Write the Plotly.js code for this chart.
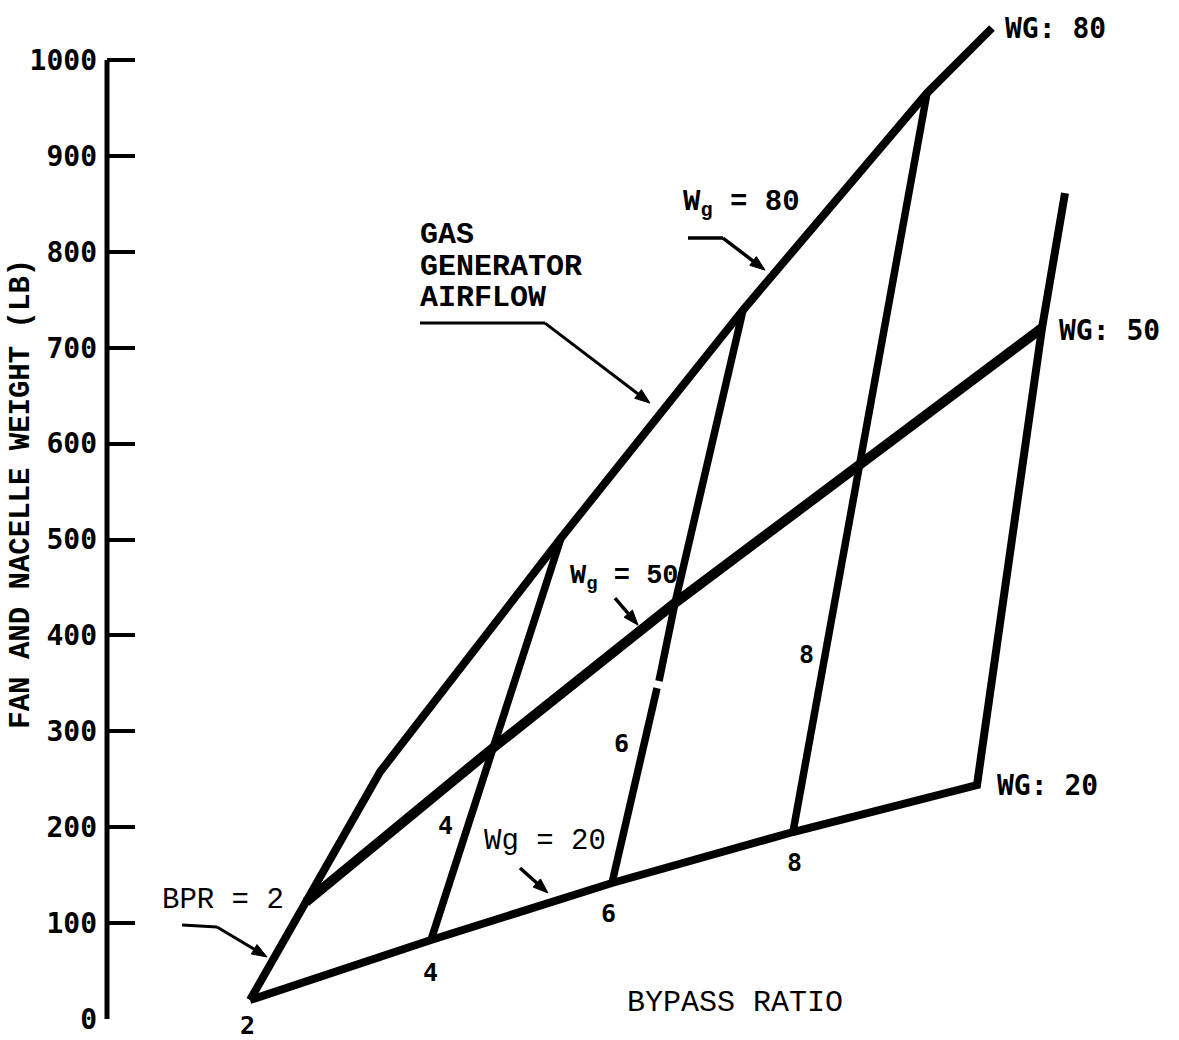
<!DOCTYPE html>
<html>
<head>
<meta charset="utf-8">
<script src="https://cdn.plot.ly/plotly-3.0.1.min.js"></script>
<style>html,body{margin:0;padding:0;background:#fff;}#chart{width:1179px;height:1040px;}</style>
</head>
<body>
<div id="chart"></div>
<script>
// ---- data ----
const bypassRatio = [2, 4, 6, 8, 10];
const gasGeneratorAirflow = [20, 50, 80];
// fan and nacelle weight (lb) at each bypass ratio
const weightWg20 = [19.8, 82.4, 141.8, 195.0, 244.0];
const weightWg50 = [122.0, 282.6, 433.8, 578.7, 720.5];
const weightWg80 = [257.6, 501.6, 739.3, 965.6];
// carpet (cheater) horizontal offsets of the same nodes
const offsetWg20 = [143, 324, 505, 686, 870];
const offsetWg50 = [199, 386, 568, 752, 935];
const offsetWg80 = [273, 454, 636, 820];
// line extensions drawn past the last node
const wg80TailWeight = 1033.4, wg80TailOffset = 885;
const bpr10TailWeight = 861.3, bpr10TailOffset = 958;
// small break in the BPR = 6 line
const bpr6BreakWeight = [345.1, 352.5];
const bpr6BreakOffset = [550, 552];
const yTickVals = [0, 100, 200, 300, 400, 500, 600, 700, 800, 900, 1000];

const ink = '#000';
const Y_MAX = 1047, PLOT_H = 1004;            // y axis range and plot height (px)
const PX_PER_Y = PLOT_H / Y_MAX;              // x axis: 1 unit = 1 px

const traces = [];
function line(x, y, w) {
  traces.push({type: 'scatter', mode: 'lines', x: x, y: y, showlegend: false, hoverinfo: 'skip',
    line: {color: ink, width: w, shape: 'linear'}, connectgaps: false});
}
// WG = 50 line
line(offsetWg50, weightWg50, 10);
// BPR = 2 line continuing into the WG = 80 line (outer envelope)
line([offsetWg20[0], offsetWg50[0]].concat(offsetWg80, [wg80TailOffset]),
     [weightWg20[0], weightWg50[0]].concat(weightWg80, [wg80TailWeight]), 8);
// WG = 20 line continuing into the BPR = 10 line
line(offsetWg20.concat([offsetWg50[4], bpr10TailOffset]),
     weightWg20.concat([weightWg50[4], bpr10TailWeight]), 8);
// inner constant bypass-ratio lines
bypassRatio.forEach(function (b, i) {
  if (b === 2 || b === 10) return;
  let xs = [offsetWg20[i], offsetWg50[i], offsetWg80[i]];
  let ys = [weightWg20[i], weightWg50[i], weightWg80[i]];
  if (b === 6) {
    xs = [offsetWg20[i], bpr6BreakOffset[0], null, bpr6BreakOffset[1], offsetWg50[i], offsetWg80[i]];
    ys = [weightWg20[i], bpr6BreakWeight[0], null, bpr6BreakWeight[1], weightWg50[i], weightWg80[i]];
  }
  line(xs, ys, 7.5);
});

const mono = 'DejaVu Sans Mono, monospace';
const courier = 'Liberation Mono, Courier New, monospace';
function txt(text, x, y, opts) {
  return Object.assign({text: text, x: x, y: y, xref: 'x', yref: 'y', showarrow: false,
    xanchor: 'left', yanchor: 'middle',
    font: {family: courier, size: 29, color: ink, weight: 'bold'}}, opts || {});
}
const digit = {font: {family: mono, size: 25, color: ink, weight: 'bold'}, xanchor: 'center'};
const wgLab = {font: {family: mono, size: 28, color: ink, weight: 'bold'}};

const annotations = [
  txt('WG: ' + gasGeneratorAirflow[2], 896, 1033.4, wgLab),
  txt('WG: ' + gasGeneratorAirflow[1], 950, 718.5, wgLab),
  txt('WG: ' + gasGeneratorAirflow[0], 888, 243, wgLab),
  txt('GAS', 311, 817.5, {font: {family: courier, size: 30, color: ink, weight: 'bold'}}),
  txt('GENERATOR', 311, 784.1, {font: {family: courier, size: 30, color: ink, weight: 'bold'}}),
  txt('AIRFLOW', 311, 751.8, {font: {family: courier, size: 30, color: ink, weight: 'bold'}}),
  txt('W<sub>g</sub> = 80', 574, 850, {}),
  txt('W<sub>g</sub> = 50', 461, 460, {font: {family: courier, size: 27, color: ink, weight: 'bold'}}),
  txt('Wg = 20', 375, 184.6, {font: {family: courier, size: 29, color: ink}}),
  txt('BPR = 2', 53, 124.1, {font: {family: courier, size: 29, color: ink}}),
  txt('BYPASS RATIO', 518, 16.7, {font: {family: courier, size: 30, color: ink}}),
  txt('4', 338, 202.3, digit),
  txt('4', 323, 48, digit),
  txt('2', 140, 0, Object.assign({yshift: -6}, digit)),
  txt('6', 514, 287.8, digit),
  txt('6', 501, 110.5, digit),
  txt('8', 699, 379.6, digit),
  txt('8', 687, 163.7, digit),
  {text: 'FAN AND NACELLE WEIGHT (LB)', xref: 'paper', yref: 'paper', x: -0.0795, y: 0.523,
    xanchor: 'center', yanchor: 'middle', textangle: -90, showarrow: false,
    font: {family: courier, size: 29, color: ink, weight: 'bold'}}
];

const shapes = [
  // y axis spine, 0 to 1000 only
  {type: 'line', xref: 'paper', yref: 'paper', x0: 0, x1: 0, y0: 0, y1: 1000 / Y_MAX,
    line: {color: ink, width: 5}}
];
function seg(x0, y0, x1, y1, w) {
  shapes.push({type: 'line', xref: 'x', yref: 'y', x0: x0, y0: y0, x1: x1, y1: y1,
    line: {color: ink, width: w}});
}
// arrow: head at (hx, hy) in axis units, tail offset (dx, dy) in screen px
function arrow(hx, hy, dx, dy, w) {
  const len = Math.hypot(dx, dy);
  const ux = -dx / len, uy = -dy / len;          // tail->head, screen px
  const L = 15, hw = 5.5;
  const bx = -ux * L, by = -uy * L;              // base centre offset (px)
  const nx = -uy * hw, ny = ux * hw;
  const toX = function (p) { return hx + p; };
  const toY = function (p) { return hy - p / PX_PER_Y; };
  seg(toX(dx), toY(dy), toX(bx * 0.8), toY(by * 0.8), w);
  const path = 'M' + hx + ',' + hy +
    ' L' + toX(bx + nx) + ',' + toY(by + ny) +
    ' L' + toX(bx - nx) + ',' + toY(by - ny) + ' Z';
  shapes.push({type: 'path', xref: 'x', yref: 'y', path: path, fillcolor: ink,
    line: {color: ink, width: 1}});
}
// arrow tails (horizontal leaders)
seg(313, 725.8, 438, 725.8, 3);
seg(581, 814.4, 616, 814.4, 3.5);
seg(75, 98.0, 110, 95.9, 3);
// arrow shafts with heads
arrow(543, 642.3, -105, -80, 3);
arrow(658, 781.0, -42, -32, 3.5);
arrow(531, 410.8, -23, -27, 3.5);
arrow(441, 131.4, -28, -25, 3.5);
arrow(160, 64.7, -50, -30, 3);

const layout = {
  width: 1179, height: 1040,
  paper_bgcolor: '#fff', plot_bgcolor: '#fff',
  margin: {l: 107, r: 0, t: 15, b: 21, pad: 0},
  showlegend: false,
  xaxis: {range: [0, 1072], visible: false, fixedrange: true},
  yaxis: {range: [0, Y_MAX], tickvals: yTickVals, ticktext: yTickVals.map(String),
    ticks: 'inside', ticklen: 28, tickwidth: 4, tickcolor: ink,
    showline: false, showgrid: false, zeroline: false, ticklabelstandoff: 9,
    tickfont: {family: mono, size: 28, color: ink, weight: 'bold'}, fixedrange: true},
  annotations: annotations,
  shapes: shapes
};
Plotly.newPlot('chart', traces, layout, {staticPlot: true, displayModeBar: false});
</script>
</body>
</html>
